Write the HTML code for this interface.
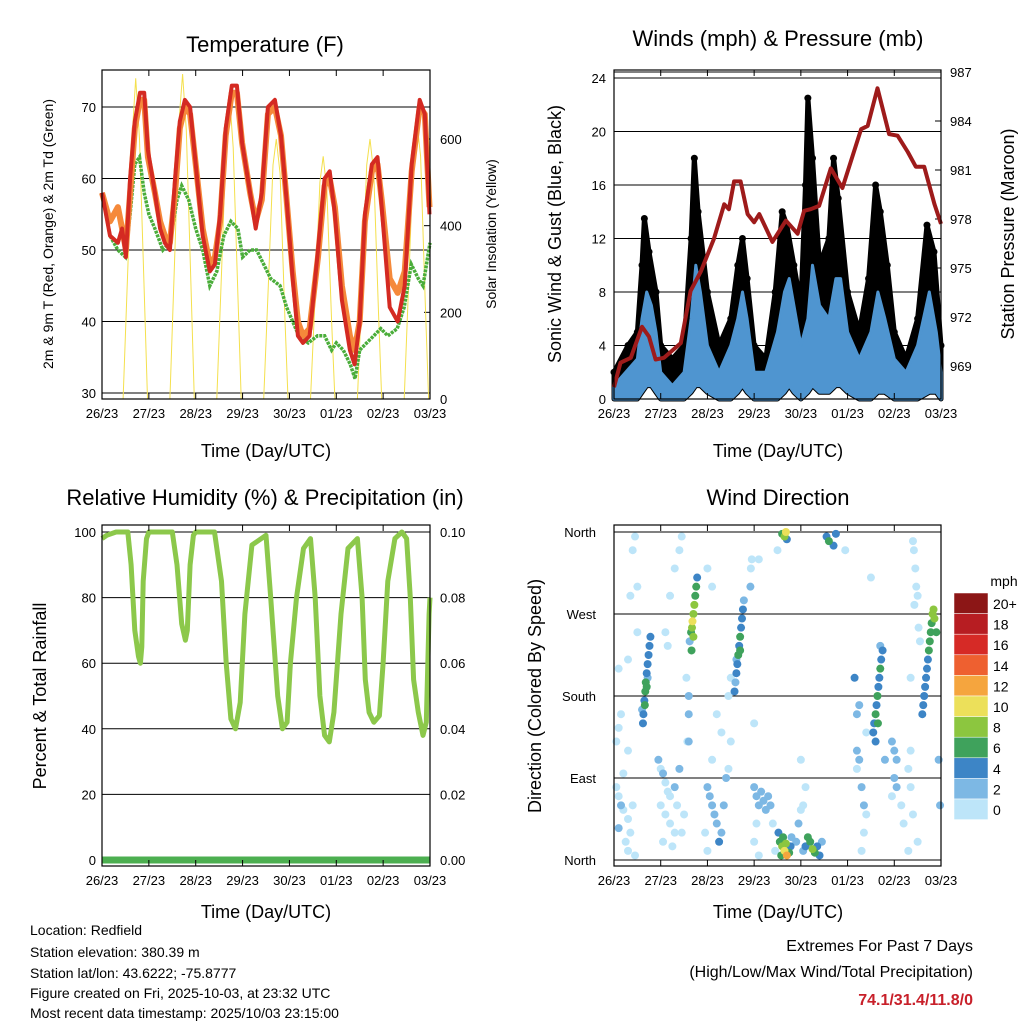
<!DOCTYPE html>
<html><head><meta charset="utf-8"><style>
body{margin:0;background:#fff}
svg{display:block;font-family:"Liberation Sans",sans-serif}
</style></head><body>
<svg id="s" width="1024" height="1024" viewBox="0 0 1024 1024" xmlns="http://www.w3.org/2000/svg">
<rect width="1024" height="1024" fill="#fff"/>
<g id="p1"></g>
<g id="p2"></g>
<g id="p3"></g>
<g id="p4"></g>
<text x="265" y="52" font-size="22" text-anchor="middle">Temperature (F)</text>
<text x="778" y="46" font-size="22" text-anchor="middle">Winds (mph) &amp; Pressure (mb)</text>
<text x="265" y="505" font-size="22" text-anchor="middle">Relative Humidity (%) &amp; Precipitation (in)</text>
<text x="778" y="505" font-size="22" text-anchor="middle">Wind Direction</text>
<g font-size="18" text-anchor="middle">
<text x="266" y="457">Time (Day/UTC)</text>
<text x="778" y="457">Time (Day/UTC)</text>
<text x="266" y="918">Time (Day/UTC)</text>
<text x="778" y="918">Time (Day/UTC)</text>
<text transform="translate(53,234) rotate(-90)" font-size="14">2m &amp; 9m T (Red, Orange) &amp; 2m Td (Green)</text>
<text transform="translate(496,234) rotate(-90)" font-size="14">Solar Insolation (Yellow)</text>
<text transform="translate(561,234) rotate(-90)">Sonic Wind &amp; Gust (Blue, Black)</text>
<text transform="translate(1014,234) rotate(-90)">Station Pressure (Maroon)</text>
<text transform="translate(46,696) rotate(-90)">Percent &amp; Total Rainfall</text>
<text transform="translate(541,696) rotate(-90)">Direction (Colored By Speed)</text>
</g>
<g font-size="14">
<text x="30" y="935">Location: Redfield</text>
<text x="30" y="957">Station elevation: 380.39 m</text>
<text x="30" y="978">Station lat/lon: 43.6222; -75.8777</text>
<text x="30" y="998">Figure created on Fri, 2025-10-03, at 23:32 UTC</text>
<text x="30" y="1018">Most recent data timestamp: 2025/10/03 23:15:00</text>
</g>
<g text-anchor="end" font-size="16">
<text x="973" y="951">Extremes For Past 7 Days</text>
<text x="973" y="977">(High/Low/Max Wind/Total Precipitation)</text>
<text x="973" y="1005" font-weight="bold" fill="#c8202a">74.1/31.4/11.8/0</text>
</g>
<g id="legend"></g>
</svg>
<script>
const dayLabels=["26/23","27/23","28/23","29/23","30/23","01/23","02/23","03/23"];
const tempTicks=[30,40,50,60,70];
const solarTicks=[0,200,400,600];
const windTicks=[0,4,8,12,16,20,24];
const presTicks=[969,972,975,978,981,984,987];
const rhTicks=[0,20,40,60,80,100];
const rainTicks=["0.00","0.02","0.04","0.06","0.08","0.10"];
const dirLabels=["North","East","South","West","North"];
const speedLabels=["0","2","4","6","8","10","12","14","16","18","20+"];
const speedColors=["#bde5f9","#7db8e4","#3d85c6","#3fa25c","#8cc63f","#ece05a","#f5a53e","#ee6030","#d62a26","#b71d22","#8c1616"];

const tempT=[0,0.17,0.34,0.43,0.51,0.6,0.7,0.81,0.9,0.98,1.13,1.24,1.34,1.45,1.56,1.66,1.77,1.88,2.0,2.15,2.3,2.41,2.52,2.64,2.77,2.88,2.99,3.16,3.28,3.41,3.54,3.69,3.82,3.94,4.07,4.18,4.29,4.43,4.61,4.75,4.86,4.97,5.12,5.29,5.39,5.5,5.61,5.76,5.88,5.97,6.14,6.31,6.46,6.61,6.78,6.89,6.99];
const tempRed=[58,52,51,53,49,60,68,72,72,64,58,53,51,50,60,68,71,70,62,52,47,48,55,67,73,73,65,58,53,58,70,71,66,57,46,38,37,38,50,60,61,55,43,36,34,40,55,62,63,56,42,40,45,62,71,69,55];
const tempOrange=[58,54,56,53,50,58,67,71,71,63,58,54,52,51,58,67,70,69,62,53,48,49,54,66,72,72,65,58,54,57,69,70,66,57,47,40,38,39,49,59,60,56,45,38,36,40,54,61,62,57,46,44,47,61,70,69,56];
const dewT=[0,0.17,0.34,0.5,0.6,0.7,0.8,0.9,1.0,1.13,1.3,1.45,1.6,1.7,1.85,2.0,2.15,2.3,2.45,2.6,2.75,2.9,3.0,3.16,3.3,3.45,3.6,3.8,3.94,4.07,4.2,4.4,4.6,4.75,4.9,5.0,5.15,5.3,5.4,5.5,5.65,5.8,5.95,6.1,6.3,6.45,6.6,6.75,6.85,7.0];
const dewGreen=[58,52,50,49,55,62,63,58,55,53,50,51,57,59,57,53,50,45,47,52,54,53,49,50,50,48,46,45,42,40,38,37,38,38,36,37,36,34,32,36,37,38,39,38,39,42,48,46,45,51];
const solarT=[0.45,0.55,0.65,0.72,0.8,0.9,0.97,1.45,1.55,1.65,1.72,1.8,1.9,1.97,2.45,2.55,2.65,2.72,2.8,2.9,2.97,3.45,3.55,3.65,3.72,3.8,3.9,3.97,4.45,4.55,4.65,4.72,4.8,4.9,4.97,5.45,5.55,5.65,5.72,5.8,5.9,5.97,6.45,6.55,6.65,6.72,6.8,6.9,6.97];
const solarV=[0,300,620,740,600,250,0,0,320,650,750,620,260,0,0,290,600,700,580,240,0,0,260,540,600,520,200,0,0,240,500,560,480,180,0,0,260,540,600,520,200,0,0,280,580,640,560,220,0];

const windT=[0,0.25,0.5,0.6,0.7,0.8,0.9,1.0,1.25,1.5,1.65,1.75,1.85,2.0,2.25,2.5,2.65,2.75,2.85,3.0,3.25,3.5,3.65,3.75,3.85,4.0,4.15,4.25,4.4,4.6,4.75,4.85,5.0,5.25,5.5,5.65,5.8,6.0,6.25,6.5,6.75,6.9,7.0];
const sonicHi=[1,2,3,6,8,7,5,2,1,2,6,10,8,4,2,4,6,8,6,2,2,5,8,9,7,4,6,10,7,6,9,9,5,3,5,8,6,3,2,4,8,5,2];
const sonicLo=[0,0,0,0.5,1,1,0.5,0,0,0,0.5,1,1,0.5,0,0,0.5,1,0.5,0,0,0,0.5,1,0.5,0,0.5,1,0.5,0.5,1,1,0.5,0,0,0.5,0.5,0,0,0,0.5,0.5,0];
const gustT=[0,0.3,0.5,0.6,0.65,0.75,0.9,1.0,1.25,1.5,1.65,1.72,1.8,2.0,2.25,2.5,2.65,2.75,2.85,3.0,3.25,3.45,3.6,3.7,3.85,4.0,4.1,4.15,4.25,4.4,4.6,4.7,4.8,5.0,5.25,5.45,5.6,5.7,5.85,6.0,6.25,6.5,6.7,6.85,7.0];
const gustHi=[2,4,5,10,13.5,11,8,4,3,4,12,18,14,8,4,6,10,12,9,4,3,8,14,13,10,7,16,22.5,18,10,12,18,15,8,5,9,16,14,10,5,3,6,13,11,4];
const presT=[0,0.14,0.36,0.6,0.75,0.89,1.07,1.43,1.64,1.86,2.14,2.36,2.46,2.57,2.71,2.86,3.0,3.11,3.39,3.68,3.93,4.07,4.21,4.39,4.64,4.89,5.29,5.43,5.64,5.89,6.07,6.29,6.46,6.64,6.86,7.0];
const presV=[967.7,969.2,969.5,971.4,970.8,969.4,969.5,970.4,973.6,974.8,976.8,978.9,978.6,980.3,980.3,978.3,977.8,978.3,976.6,977.9,977.1,978.5,978.6,978.8,981.1,979.9,983.5,983.7,986.0,983.2,983.1,982.1,981.2,981.2,978.9,977.7];

const rhT=[0,0.1,0.3,0.55,0.62,0.7,0.78,0.82,0.85,0.88,0.95,1.0,1.5,1.6,1.7,1.78,1.82,1.88,1.95,2.0,2.4,2.55,2.65,2.75,2.85,2.95,3.05,3.2,3.5,3.6,3.75,3.85,3.95,4.02,4.15,4.3,4.45,4.55,4.65,4.75,4.85,4.95,5.1,5.25,5.45,5.55,5.62,5.7,5.8,5.92,6.0,6.1,6.25,6.4,6.5,6.58,6.65,6.75,6.85,6.92,6.98,7.0];
const rhV=[98,99,100,100,90,70,62,60,65,85,98,100,100,90,72,67,70,90,99,100,100,85,60,43,40,48,75,96,99,80,50,40,42,60,80,95,98,80,50,38,36,45,75,95,98,80,55,45,42,44,60,85,98,100,98,80,55,45,38,42,75,80];
const rainT=[0,7];
const rainV=[0,0];

const dirPts=[[0.05,80,1],[0.1,70,1],[0.15,60,2],[0.2,55,1],[0.3,45,1],[0.35,30,0],[0.25,20,0],[0.1,35,2],[0.3,10,1],[0.45,5,0],[0.4,60,1],[0.2,95,1],[0.05,130,0],[0.1,145,0],[0.15,160,1],[0.3,120,0],[0.4,340,0],[0.45,355,0],[0.35,290,0],[0.5,250,0],[0.3,220,0],[0.1,210,0],[0.5,300,0],
[0.62,150,4],[0.63,160,4],[0.65,175,5],[0.67,185,6],[0.68,195,6],[0.7,205,4],[0.72,215,5],[0.74,225,4],[0.76,235,4],[0.78,245,4],[0.66,170,7],[0.7,190,6],[0.72,200,3],[0.6,165,3],
[0.95,110,2],[1.0,100,1],[1.05,95,2],[1.1,85,1],[1.15,75,0],[1.2,70,1],[1.0,60,1],[1.1,50,0],[1.2,40,1],[1.3,30,0],[1.05,20,0],[1.25,15,0],[1.3,80,2],[1.4,100,2],[1.35,60,1],[1.45,30,0],[1.5,50,0],[1.1,250,0],[1.2,290,0],[1.3,320,0],[1.4,340,0],[1.45,355,0],[1.15,235,0],[1.55,200,0],[1.57,130,1],
[1.62,240,3],[1.65,250,7],[1.67,255,8],[1.68,262,10],[1.7,270,9],[1.72,280,8],[1.74,290,7],[1.76,300,6],[1.78,310,4],[1.7,245,8],[1.66,230,6],[1.6,180,2],[1.6,160,2],[1.6,130,2],
[2.0,80,2],[2.05,70,3],[2.1,60,2],[2.15,50,2],[2.2,40,3],[2.25,20,4],[2.3,30,3],[2.35,60,2],[2.4,90,2],[2.45,100,1],[2.5,130,1],[2.3,140,1],[2.2,160,1],[2.1,110,0],[1.95,30,1],[2.0,10,0],[2.1,300,0],[2.0,320,0],[2.45,180,0],[2.5,200,0],
[2.58,185,4],[2.6,195,3],[2.62,205,4],[2.64,215,5],[2.66,225,6],[2.68,235,5],[2.7,245,6],[2.72,255,4],[2.74,265,4],[2.76,275,4],[2.78,285,3],[2.62,220,3],[2.7,230,6],[2.92,300,2],[2.95,330,1],[2.93,320,1],
[3.0,80,2],[3.05,70,2],[3.1,60,2],[3.15,75,2],[3.2,65,2],[3.25,55,2],[3.3,70,2],[3.35,60,2],[3.0,20,1],[3.05,40,1],[3.1,5,0],[3.4,40,0],[3.45,10,0],[3.0,150,1],[3.1,330,0],[3.5,340,0],
[3.55,20,6],[3.6,15,8],[3.65,10,10],[3.7,5,12],[3.62,25,6],[3.68,18,9],[3.75,8,6],[3.58,5,7],[3.78,15,4],[3.8,25,3],[3.52,30,5],[3.6,358,6],[3.65,355,8],[3.68,360,10],[3.7,352,4],
[3.9,20,2],[3.95,40,2],[4.0,55,1],[4.05,10,3],[4.1,15,4],[4.15,25,6],[4.2,20,7],[4.25,12,8],[4.3,8,6],[4.35,15,5],[4.4,5,4],[4.45,20,3],[4.05,60,1],[4.1,80,1],[4.0,110,1],[4.55,355,4],[4.6,350,6],[4.7,345,5],[4.75,358,4],
[5.2,120,2],[5.25,110,3],[5.2,100,1],[5.3,80,2],[5.35,60,2],[5.4,50,1],[5.35,30,0],[5.3,10,1],[5.4,140,1],[5.2,160,3],[5.15,200,4],[4.95,340,0],[5.5,310,0],[5.25,170,3],
[5.55,140,4],[5.57,150,4],[5.6,160,6],[5.62,170,5],[5.64,180,6],[5.66,190,4],[5.68,200,4],[5.7,210,6],[5.72,220,4],[5.75,230,4],[5.7,235,3],[5.6,130,4],[5.65,150,6],[5.8,110,3],
[5.95,130,2],[6.0,120,2],[6.05,110,2],[6.0,90,2],[6.05,80,2],[5.95,70,1],[6.15,60,1],[6.2,40,1],[6.3,100,1],[6.35,120,0],[6.4,50,1],[6.5,20,0],[6.3,10,0],[6.35,80,1],
[6.4,350,0],[6.42,340,0],[6.45,320,0],[6.47,300,0],[6.5,290,0],[6.43,280,0],[6.52,255,0],[6.55,240,0],[6.35,200,0],
[6.6,160,4],[6.62,170,4],[6.64,180,4],[6.66,190,4],[6.68,200,4],[6.7,210,4],[6.72,220,4],[6.74,230,6],[6.76,240,6],[6.78,250,6],[6.8,260,7],[6.82,270,8],[6.84,275,9],[6.86,265,8],[6.9,250,6],[6.95,110,2],[6.98,60,2]];

const NS="http://www.w3.org/2000/svg";
function el(parent,tag,attrs,name){const e=document.createElementNS(NS,tag);for(const k in attrs)e.setAttribute(k,attrs[k]);


parent.appendChild(e);return e;}
function txt(parent,x,y,s,anchor,size,name){const t=el(parent,'text',{x:x,y:y,'text-anchor':anchor,'font-size':size},name);t.textContent=s;return t;}
function lin(a0,a1,p0,p1){return v=>p0+(v-a0)*(p1-p0)/(a1-a0);}
function pathFrom(ts,vs,X,Y){return ts.map((t,i)=>(i?'L':'M')+X(t).toFixed(1)+','+Y(vs[i]).toFixed(1)).join('');}

function frame(g,x0,x1,y0,y1,X,nameP){
  for(let d=0;d<=7;d++){
    const x=X(d);
    el(g,'line',{x1:x,x2:x,y1:y1,y2:y1-6,stroke:'#000','stroke-width':1},nameP+'-x-tick');
    el(g,'line',{x1:x,x2:x,y1:y0,y2:y0+6,stroke:'#000','stroke-width':1},nameP+'-x-tick-top');
    txt(g,x,y1+19,dayLabels[d],'middle',13,nameP+'-x-tick-label');
  }
  el(g,'rect',{x:x0,y:y0,width:x1-x0,height:y1-y0,fill:'none',stroke:'#000','stroke-width':1.2},nameP+'-frame');
}
function hgrid(g,x0,x1,y,name){el(g,'line',{x1:x0,x2:x1,y1:y,y2:y,stroke:'#000','stroke-width':1},name);}

// Panel 1: temperature
(function(){
  const g=document.getElementById('p1');
  const X=lin(0,7,102,430),Y=lin(30,70,393,107),S=lin(0,600,399,139);
  tempTicks.forEach(v=>{hgrid(g,102,430,Y(v),'temp-gridline');txt(g,96,Y(v)+5,String(v),'end',13,'temp-y-tick-label');});
  solarTicks.forEach(v=>{txt(g,440,S(v)+5,String(v),'start',13,'solar-y-tick-label');el(g,'line',{x1:424,x2:430,y1:S(v),y2:S(v),stroke:'#000'},'solar-y-tick');});
  el(g,'path',{d:pathFrom(solarT,solarV,X,S),fill:'none',stroke:'#f4e04d','stroke-width':1},'solar-insolation-line');
  el(g,'path',{d:pathFrom(dewT,dewGreen,X,Y),fill:'none',stroke:'#4aad3a','stroke-width':3.5,'stroke-dasharray':'3 1'},'dewpoint-line');
  el(g,'path',{d:pathFrom(tempT,tempOrange,X,Y),fill:'none',stroke:'#f5893a','stroke-width':6,'stroke-linejoin':'round'},'temp-9m-line');
  el(g,'path',{d:pathFrom(tempT,tempRed,X,Y),fill:'none',stroke:'#d42a22','stroke-width':4,'stroke-linejoin':'round'},'temp-2m-line');
  frame(g,102,430,70,399,X,'temp');
})();

// Panel 2: winds & pressure
(function(){
  const g=document.getElementById('p2');
  const X=lin(0,7,614,941),Y=lin(0,24,399,78),P=lin(969,987,366,72);
  windTicks.forEach(v=>{hgrid(g,614,941,Y(v),'wind-gridline');txt(g,606,Y(v)+5,String(v),'end',13,'wind-y-tick-label');});
  hgrid(g,614,941,P(987),'pressure-top-gridline');
  presTicks.forEach(v=>{txt(g,950,P(v)+5,String(v),'start',13,'pressure-y-tick-label');el(g,'line',{x1:935,x2:941,y1:P(v),y2:P(v),stroke:'#000'},'pressure-y-tick');});
  const up=gustT.map((t,i)=>X(t).toFixed(1)+','+Y(gustHi[i]).toFixed(1));
  const lo=windT.map((t,i)=>X(t).toFixed(1)+','+Y(sonicLo[i]).toFixed(1)).reverse();
  el(g,'polygon',{points:up.concat(lo).join(' '),fill:'#000',stroke:'#000','stroke-width':5,'stroke-linejoin':'round'},'gust-points');
  gustT.forEach((t,i)=>{el(g,'circle',{cx:X(t),cy:Y(gustHi[i]),r:3.5,fill:'#000'},'gust-point');});
  const bu=windT.map((t,i)=>X(t).toFixed(1)+','+Y(sonicHi[i]).toFixed(1));
  el(g,'polygon',{points:bu.concat(lo).join(' '),fill:'#4f95d0',stroke:'#4f95d0','stroke-width':3,'stroke-linejoin':'round'},'sonic-wind-line');
  el(g,'path',{d:pathFrom(presT,presV,X,P),fill:'none',stroke:'#9e1b1b','stroke-width':4,'stroke-linejoin':'round'},'pressure-line');
  frame(g,614,941,70,399,X,'wind');
})();

// Panel 3: humidity
(function(){
  const g=document.getElementById('p3');
  const X=lin(0,7,102,430),Y=lin(0,100,860,532);
  rhTicks.forEach((v,i)=>{hgrid(g,102,430,Y(v),'rh-gridline');txt(g,96,Y(v)+5,String(v),'end',13,'rh-y-tick-label');txt(g,440,Y(v)+5,rainTicks[i],'start',13,'rain-y-tick-label');});
  el(g,'path',{d:pathFrom(rhT,rhV,X,Y),fill:'none',stroke:'#8cc84b','stroke-width':5,'stroke-linejoin':'round'},'humidity-line');
  el(g,'path',{d:pathFrom(rainT,rainV,X,Y),fill:'none',stroke:'#4caf50','stroke-width':7},'precipitation-line');
  frame(g,102,430,525,866,X,'rh');
})();

// Panel 4: wind direction
(function(){
  const g=document.getElementById('p4');
  const X=lin(0,7,614,941),Y=lin(0,360,860,532);
  dirLabels.forEach((s,i)=>{const y=Y(i*90);hgrid(g,614,941,y,'dir-gridline');txt(g,596,y+5,s,'end',13,'dir-y-tick-label');});
  const order=dirPts.slice().sort((a,b)=>a[2]-b[2]);
  order.forEach(p=>{const c=speedColors[Math.min(10,Math.floor(p[2]/2))];
    el(g,'circle',{cx:X(p[0]),cy:Y(p[1]),r:4,fill:c},'direction-point');});
  frame(g,614,941,525,866,X,'dir');
  const L=document.getElementById('legend');
  txt(L,1004,586,'mph','middle',14,'colorbar-title');
  const top=593,h=20.6;
  for(let i=0;i<11;i++){const k=10-i;
    el(L,'rect',{x:954,y:top+i*h,width:34,height:h,fill:speedColors[k],stroke:'#fff','stroke-width':0.5},'colorbar-box');
    txt(L,993,top+i*h+16,speedLabels[k],'start',14,'colorbar-label');}
})();
</script>
</body></html>
